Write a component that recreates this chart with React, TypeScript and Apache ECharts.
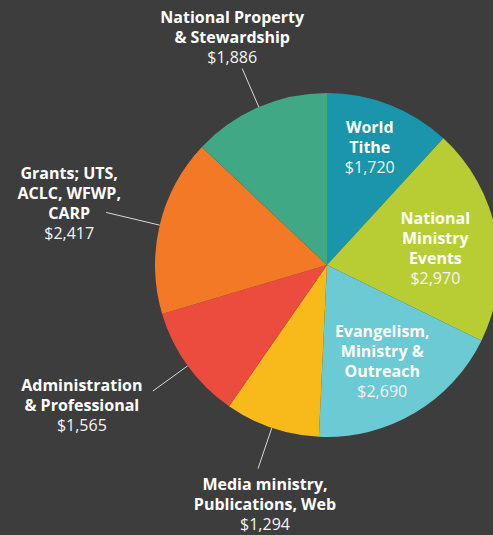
import React, { useEffect, useRef } from 'react';
import * as echarts from 'echarts';

const categories = [
  'World\nTithe',
  'National\nMinistry\nEvents',
  'Evangelism,\nMinistry &\nOutreach',
  'Media ministry,\nPublications, Web',
  'Administration\n& Professional',
  'Grants; UTS,\nACLC, WFWP,\nCARP',
  'National Property\n& Stewardship',
];
const values = [1720, 2970, 2690, 1294, 1565, 2417, 1886];
const colors = ['#1a95ab', '#b8cd33', '#6bcad3', '#f8b91a', '#ec4c3e', '#f37926', '#41a886'];

// label placement styles (not data)
const insideLabel = [true, true, true, false, false, false, false];
const insideRadiusFrac = [0.733, 0.641, 0.631, 0, 0, 0, 0];
const leaderLength = [0, 0, 0, 43, 43, 55, 42];
const labelShift: number[][] = [[-3, -1], [0, 3], [0, 3], [7, 5], [-71, -16], [-37, -49], [-10, -62]];

const CX = 327;
const CY = 265;
const R = 172;

function money(v: number): string {
  const s = String(v);
  return '$' + s.replace(/\B(?=(\d{3})+(?!\d))/g, ',');
}

export default function App() {
  const ref = useRef<HTMLDivElement>(null);
  useEffect(() => {
    if (!ref.current) return;
    const chart = echarts.init(ref.current, null, { renderer: 'svg' });
    const total = values.reduce((a, b) => a + b, 0);
    const mids: number[] = [];
    let acc = 0;
    values.forEach((v) => {
      mids.push(((acc + v / 2) / total) * Math.PI * 2);
      acc += v;
    });
    const font = '"Open Sans", "DejaVu Sans", sans-serif';
    chart.setOption({
      animation: false,
      backgroundColor: '#3d3d3d',
      series: [
        {
          type: 'pie',
          center: [CX, CY],
          radius: [0, R],
          startAngle: 90,
          clockwise: true,
          avoidLabelOverlap: false,
          itemStyle: { borderWidth: 0 },
          emphasis: { disabled: true },
          data: categories.map((name, i) => ({
            name,
            value: values[i],
            itemStyle: { color: colors[i] },
            label: { position: insideLabel[i] ? 'inside' : 'outside' },
            labelLine: {
              show: !insideLabel[i],
              length: leaderLength[i],
              length2: 0,
              lineStyle: { color: '#d8d8d8', width: 1 },
            },
          })),
          label: {
            show: true,
            color: '#ffffff',
            formatter: (p: any) => `{b|${p.name}}\n{v|${money(p.value)}}`,
            rich: {
              b: {
                fontFamily: font,
                fontWeight: 'bold',
                fontSize: 16,
                lineHeight: 20,
                color: '#ffffff',
                align: 'center',
              },
              v: {
                fontFamily: font,
                fontWeight: 'normal',
                fontSize: 16,
                lineHeight: 20,
                color: '#f4f4f4',
                align: 'center',
              },
            },
          },
          labelLayout: (p: any) => {
            const i = p.dataIndex;
            const a = mids[i];
            const sx = Math.sin(a);
            const sy = -Math.cos(a);
            const [dx, dy] = labelShift[i];
            if (insideLabel[i]) {
              const r = R * insideRadiusFrac[i];
              return {
                x: CX + r * sx + dx,
                y: CY + r * sy + dy,
                align: 'center',
                verticalAlign: 'middle',
              };
            }
            const p1 = [CX + R * sx, CY + R * sy];
            const re = R + leaderLength[i];
            const p2 = [CX + re * sx, CY + re * sy];
            return {
              x: p2[0] + dx,
              y: p2[1] + dy,
              align: 'center',
              verticalAlign: 'top',
              labelLinePoints: [p1, p2, p2],
            };
          },
        },
      ],
    });
    return () => chart.dispose();
  }, []);
  return (
    <div
      ref={ref}
      style={{ position: 'absolute', left: 0, top: 0, width: 493, height: 535 }}
    />
  );
}
